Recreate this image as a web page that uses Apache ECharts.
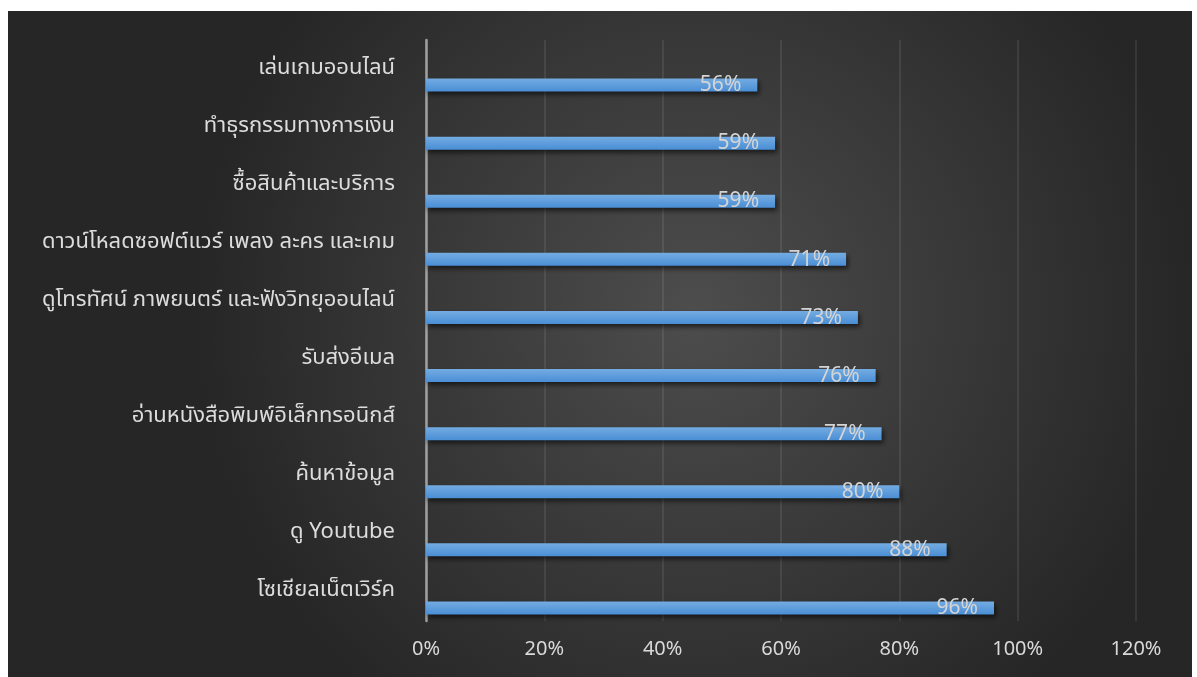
<!DOCTYPE html>
<html>
<head>
<meta charset="utf-8">
<script src="https://cdn.jsdelivr.net/npm/echarts@6/dist/echarts.min.js"></script>
<style>
  html, body { margin: 0; padding: 0; background: #fff; }
  #chart { position: absolute; left: 8px; top: 11px; width: 1184px; height: 666px; }
</style>
</head>
<body>
<div id="chart"></div>
<script>
// หมวดหมู่ (จากบนลงล่าง)
const categories = [
  'เล่นเกมออนไลน์',
  'ทำธุรกรรมทางการเงิน',
  'ซื้อสินค้าและบริการ',
  'ดาวน์โหลดซอฟต์แวร์ เพลง ละคร และเกม',
  'ดูโทรทัศน์ ภาพยนตร์ และฟังวิทยุออนไลน์',
  'รับส่งอีเมล',
  'อ่านหนังสือพิมพ์อิเล็กทรอนิกส์',
  'ค้นหาข้อมูล',
  'ดู Youtube',
  'โซเชียลเน็ตเวิร์ค'
]
const values = [0.56, 0.59, 0.59, 0.71, 0.73, 0.76, 0.77, 0.80, 0.88, 0.96]
const emptyValues = categories.map(() => '-')

const fontStack = '"Noto Sans Thai", "Leelawadee UI", Tahoma, "Noto Sans", "DejaVu Sans", sans-serif'
const chart = echarts.init(document.getElementById('chart'))

const option = {
  backgroundColor: {
    type: 'radial', x: 0.58, y: 0.45, r: 0.75,
    colorStops: [
      { offset: 0, color: '#4d4d4d' },
      { offset: 1, color: '#262626' }
    ]
  },
  grid: { left: 418, top: 29, width: 710, height: 581 },
  xAxis: {
    type: 'value',
    min: 0,
    max: 1.2,
    interval: 0.2,
    axisLine: { show: false },
    axisTick: { show: false },
    splitLine: { lineStyle: { color: 'rgba(255,255,255,0.11)', width: 1.5 } },
    axisLabel: {
      color: '#d9d9d9',
      fontSize: 20,
      fontFamily: fontStack,
      margin: 20,
      formatter: v => Math.round(v * 100) + '%'
    }
  },
  yAxis: {
    type: 'category',
    inverse: true,
    data: categories,
    axisLine: { lineStyle: { color: '#a0a0a0', width: 2.5 } },
    axisTick: { show: false },
    axisLabel: {
      color: '#dcdcdc',
      fontSize: 22,
      fontFamily: fontStack,
      margin: 31
    }
  },
  series: [
    {
      type: 'bar',
      data: emptyValues,
      barWidth: 13,
      barGap: '146%',
      silent: true
    },
    {
      type: 'bar',
      data: values,
      barWidth: 13,
      itemStyle: {
        color: {
          type: 'linear', x: 0, y: 0, x2: 0, y2: 1,
          colorStops: [
            { offset: 0, color: '#74ace2' },
            { offset: 1, color: '#4a8ed5' }
          ]
        },
        shadowColor: 'rgba(0,0,0,0.6)',
        shadowBlur: 5,
        shadowOffsetX: 2,
        shadowOffsetY: 3
      },
      label: {
        show: true,
        position: 'insideRight',
        distance: 16,
        color: '#d4d4d4',
        fontSize: 21,
        fontFamily: fontStack,
        offset: [0, 2],
        formatter: p => Math.round(p.value * 100) + '%'
      }
    }
  ]
}

chart.setOption(option)
</script>
</body>
</html>
